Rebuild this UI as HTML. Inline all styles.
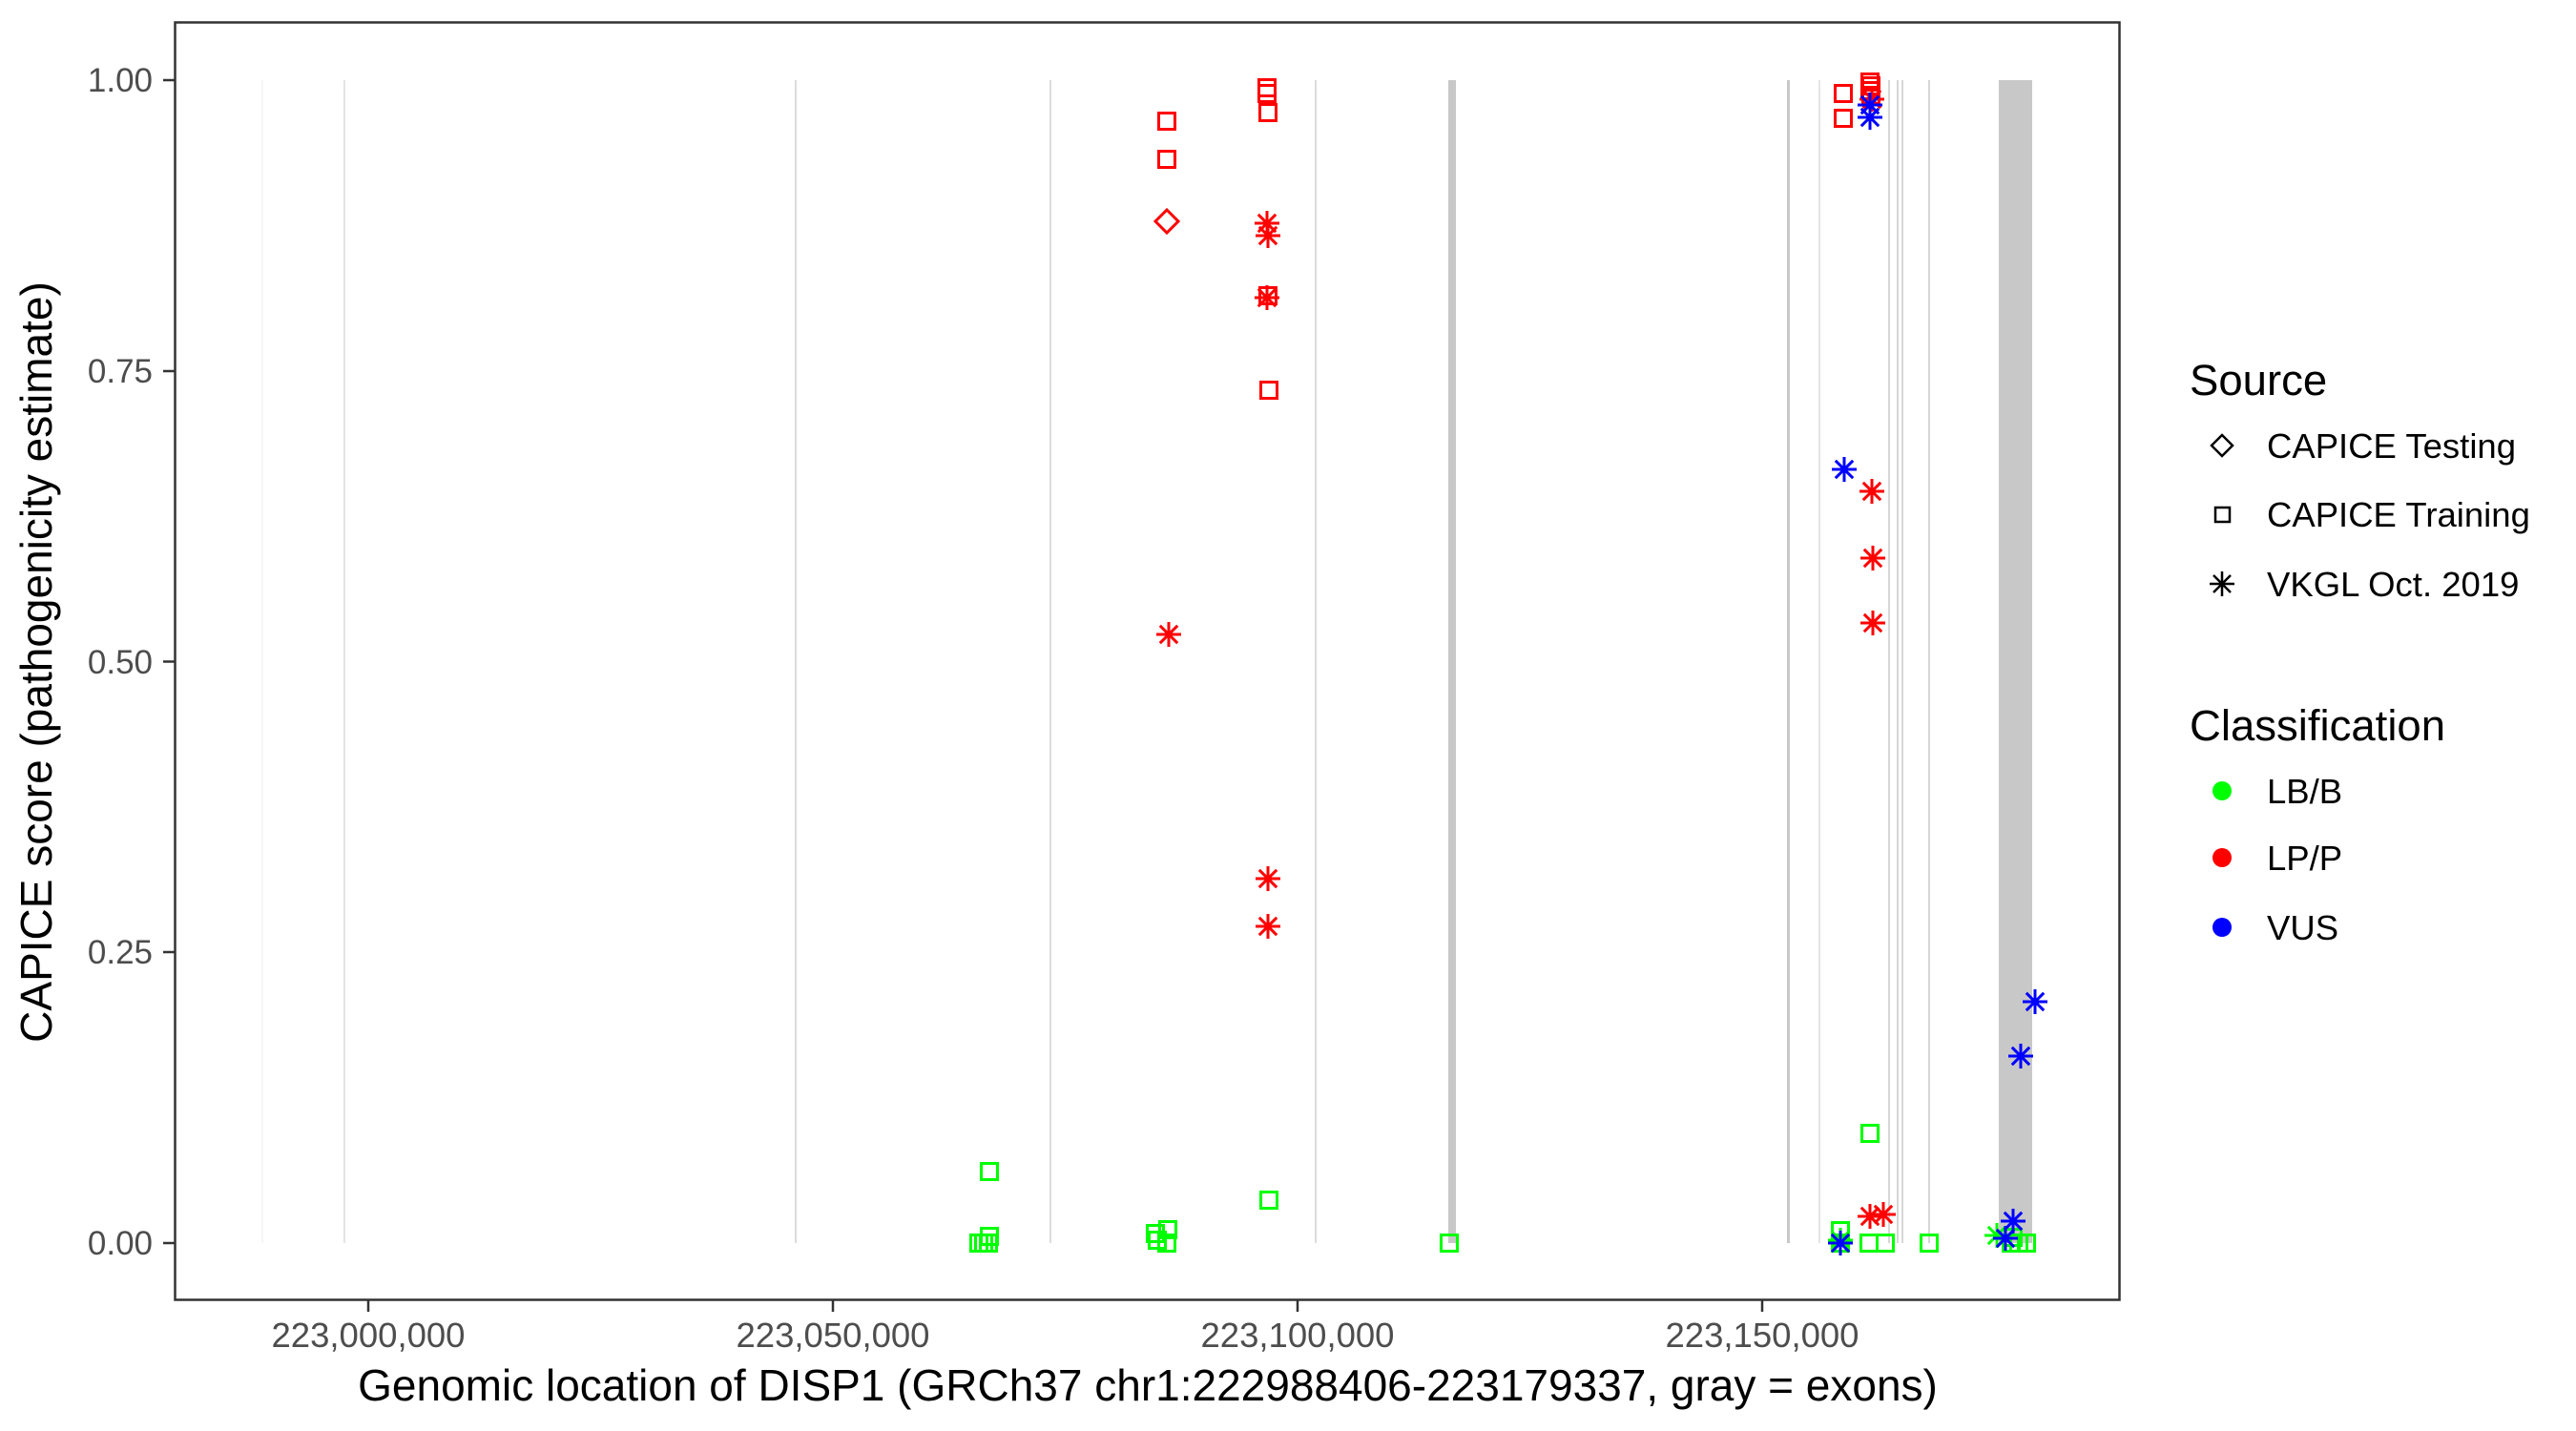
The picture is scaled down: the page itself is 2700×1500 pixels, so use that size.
<!DOCTYPE html>
<html><head><meta charset="utf-8"><style>
html,body{margin:0;padding:0;background:#fff}
svg{display:block}
text{font-family:"Liberation Sans",sans-serif}
</style></head><body>
<svg width="2700" height="1500" viewBox="0 0 2700 1500" xmlns="http://www.w3.org/2000/svg">
<defs>
<g id="sq"><rect x="-8.5" y="-8.5" width="17" height="17" fill="none"/></g>
<g id="di"><path d="M0-12L12 0L0 12L-12 0Z" fill="none"/></g>
<g id="as"><path d="M0-13V13M-13 0H13M-9.2-9.2L9.2 9.2M-9.2 9.2L9.2-9.2" fill="none"/></g>
</defs>
<rect width="2700" height="1500" fill="#fff"/>
<g stroke-width="1.5">
<line x1="275" y1="84" x2="275" y2="1303" stroke="#f3f3f3"/>
<line x1="361" y1="84" x2="361" y2="1303" stroke="#dcdcdc"/>
<line x1="834" y1="84" x2="834" y2="1303" stroke="#d0d0d0"/>
<line x1="1101" y1="84" x2="1101" y2="1303" stroke="#d0d0d0"/>
<line x1="1379" y1="84" x2="1379" y2="1303" stroke="#d0d0d0"/>
<line x1="1907" y1="84" x2="1907" y2="1303" stroke="#dcdcdc"/>
<line x1="1980" y1="84" x2="1980" y2="1303" stroke="#c8c8c8"/>
<line x1="1989" y1="84" x2="1989" y2="1303" stroke="#c8c8c8"/>
<line x1="1994" y1="84" x2="1994" y2="1303" stroke="#c8c8c8"/>
<line x1="2022" y1="84" x2="2022" y2="1303" stroke="#c8c8c8"/>
</g>
<rect x="1518" y="84" width="8" height="1219" fill="#c8c8c8"/>
<rect x="1873" y="84" width="3" height="1219" fill="#c8c8c8"/>
<rect x="2095" y="84" width="35" height="1219" fill="#c8c8c8"/>
<g stroke="#00ff00" stroke-width="3">
<use href="#sq" x="1037" y="1228"/><use href="#sq" x="1026" y="1303"/><use href="#sq" x="1031" y="1303"/><use href="#sq" x="1036" y="1303"/><use href="#sq" x="1037" y="1296"/>
<use href="#sq" x="1211" y="1293"/><use href="#sq" x="1224" y="1289"/><use href="#sq" x="1213" y="1300"/><use href="#sq" x="1223" y="1303"/>
<use href="#sq" x="1330" y="1258"/><use href="#sq" x="1519" y="1303"/><use href="#sq" x="1960" y="1188"/>
<use href="#sq" x="1929" y="1290"/><use href="#sq" x="1929" y="1303"/><use href="#sq" x="1959" y="1303"/><use href="#sq" x="1976" y="1303"/><use href="#sq" x="2022" y="1303"/>
<use href="#sq" x="2108" y="1303"/><use href="#sq" x="2116" y="1303"/><use href="#sq" x="2124" y="1303"/><use href="#sq" x="2110" y="1297"/>
<use href="#as" x="1929" y="1300"/><use href="#as" x="2093" y="1295"/>
</g>
<g stroke="#ff0000" stroke-width="3">
<use href="#sq" x="1223" y="127"/><use href="#sq" x="1223" y="167"/><use href="#sq" x="1328" y="92"/><use href="#sq" x="1328" y="98"/><use href="#sq" x="1329" y="118"/><use href="#sq" x="1329" y="310"/><use href="#sq" x="1330" y="409"/>
<use href="#sq" x="1932" y="98"/><use href="#sq" x="1932" y="124"/><use href="#sq" x="1960" y="86"/><use href="#sq" x="1961" y="90"/><use href="#sq" x="1960" y="95"/><use href="#sq" x="1961" y="100"/>
<use href="#di" x="1223" y="232"/>
<use href="#as" x="1328" y="234"/><use href="#as" x="1329" y="247"/><use href="#as" x="1328" y="312"/><use href="#as" x="1225" y="665"/><use href="#as" x="1329" y="921"/><use href="#as" x="1329" y="971"/>
<use href="#as" x="1962" y="515"/><use href="#as" x="1963" y="585"/><use href="#as" x="1963" y="653"/><use href="#as" x="1960" y="1275"/><use href="#as" x="1974" y="1273"/><use href="#as" x="1962" y="104"/>
</g>
<g stroke="#0000ff" stroke-width="3">
<use href="#as" x="1960" y="110"/><use href="#as" x="1960" y="123"/><use href="#as" x="1933" y="492"/><use href="#as" x="2133" y="1050"/><use href="#as" x="2118" y="1107"/><use href="#as" x="2110" y="1280"/><use href="#as" x="2102" y="1298"/><use href="#as" x="1929" y="1303"/>
</g>
<rect x="183.5" y="23.5" width="2038" height="1339" fill="none" stroke="#333" stroke-width="2.5"/>
<g stroke="#333" stroke-width="2.5">
<line x1="171" y1="84" x2="183" y2="84"/><line x1="171" y1="389" x2="183" y2="389"/><line x1="171" y1="693.5" x2="183" y2="693.5"/><line x1="171" y1="998" x2="183" y2="998"/><line x1="171" y1="1303" x2="183" y2="1303"/>
<line x1="386" y1="1363" x2="386" y2="1375"/><line x1="873" y1="1363" x2="873" y2="1375"/><line x1="1360" y1="1363" x2="1360" y2="1375"/><line x1="1847" y1="1363" x2="1847" y2="1375"/>
</g>
<g fill="#4d4d4d" font-size="35" text-anchor="end">
<text x="160" y="96">1.00</text><text x="160" y="401">0.75</text><text x="160" y="706">0.50</text><text x="160" y="1010">0.25</text><text x="160" y="1315">0.00</text>
</g>
<g fill="#4d4d4d" font-size="36.5" text-anchor="middle">
<text x="386" y="1412">223,000,000</text><text x="873" y="1412">223,050,000</text><text x="1360" y="1412">223,100,000</text><text x="1847" y="1412">223,150,000</text>
</g>
<text x="1203" y="1468" font-size="46" text-anchor="middle" fill="#000">Genomic location of DISP1 (GRCh37 chr1:222988406-223179337, gray = exons)</text>
<text transform="translate(54,694) rotate(-90)" font-size="46" text-anchor="middle" fill="#000">CAPICE score (pathogenicity estimate)</text>
<text x="2295" y="414" font-size="45.5">Source</text>
<g stroke="#000" stroke-width="2.5" fill="none">
<path d="M2329 456L2340 467L2329 478L2318 467Z"/>
<rect x="2322" y="532" width="15" height="15"/>
<path d="M2329 599V625M2316 612H2342M2320 603L2338 621M2320 621L2338 603"/>
</g>
<g font-size="36.5" fill="#000">
<text x="2376" y="480">CAPICE Testing</text>
<text x="2376" y="552">CAPICE Training</text>
<text x="2376" y="625">VKGL Oct. 2019</text>
</g>
<text x="2295" y="776" font-size="45.5">Classification</text>
<circle cx="2329" cy="829" r="10" fill="#00ff00"/>
<circle cx="2329" cy="899" r="10" fill="#ff0000"/>
<circle cx="2329" cy="972" r="10" fill="#0000ff"/>
<g font-size="36.5" fill="#000">
<text x="2376" y="842">LB/B</text>
<text x="2376" y="912">LP/P</text>
<text x="2376" y="985">VUS</text>
</g>
</svg>
</body></html>
